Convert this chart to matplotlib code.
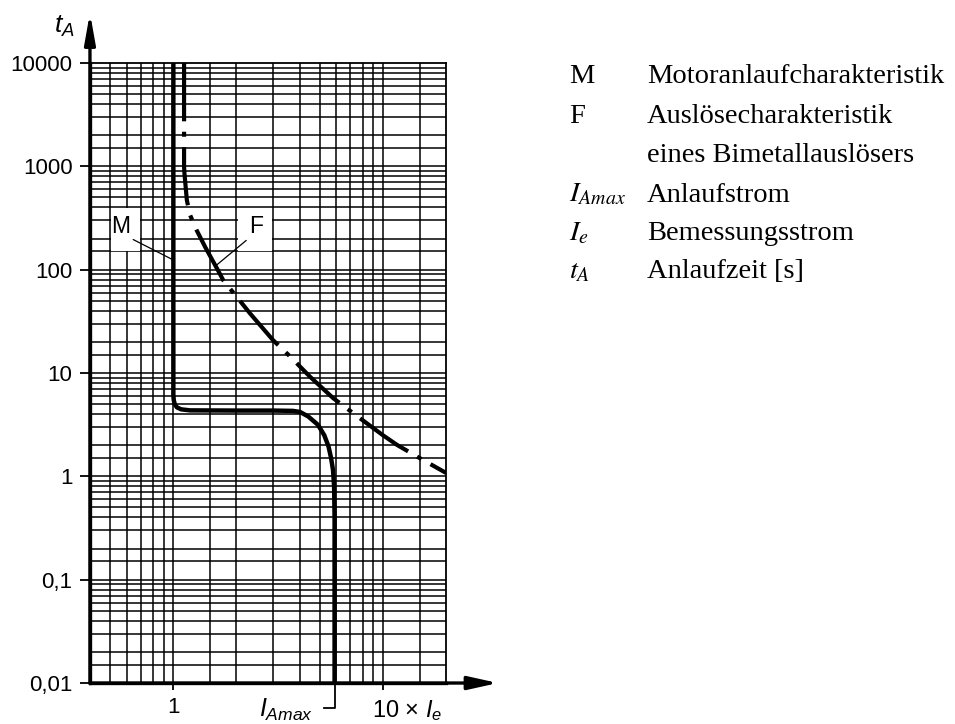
import matplotlib.pyplot as plt
from matplotlib.patches import Rectangle
from matplotlib.ticker import FixedLocator, NullLocator
from matplotlib.transforms import blended_transform_factory

plt.rcParams['font.family'] = ['Liberation Sans', 'DejaVu Sans']
plt.rcParams['mathtext.fontset'] = 'custom'
plt.rcParams['mathtext.rm'] = 'Liberation Sans'
plt.rcParams['mathtext.it'] = 'Liberation Sans:italic'

# M: motor start-up curve (current as multiple of I_e, time in s)
m_current = [1.0, 1.0, 1.004, 1.015, 1.04, 1.09, 1.2, 2.0, 3.0, 3.72, 4.02,
             4.4, 4.9, 5.25, 5.5, 5.66, 5.78, 5.85, 5.88, 5.88]
m_time = [10000, 6.2, 5.5, 5.0, 4.65, 4.45, 4.35, 4.33, 4.33, 4.3, 4.2,
          3.8, 3.15, 2.5, 1.95, 1.5, 1.15, 0.8, 0.4, 0.01]

# F: tripping curve of the bimetal release
f_current = [1.125, 1.125, 1.13, 1.16, 1.2, 1.29, 1.42, 1.64, 1.73, 2.0,
             2.32, 2.99, 3.6, 4.49, 5.78, 7.5, 10.0, 11.7, 15.0, 20.0]
f_time = [10000, 1000, 850, 470, 340, 242, 165, 97, 79, 55,
          37.8, 20.8, 14.5, 9.2, 5.73, 3.85, 2.5, 2.01, 1.5, 1.08]

i_amax = 5.88

y_ticks = [0.01, 0.1, 1, 10, 100, 1000, 10000]
y_labels = ['0,01', '0,1', '1', '10', '100', '1000', '10000']

legend_symbols = ['M', 'F', '', '$I_{Amax}$', '$I_e$', '$t_A$']
legend_texts = ['Motoranlaufcharakteristik', 'Auslösecharakteristik',
                'eines Bimetallauslösers', 'Anlaufstrom', 'Bemessungsstrom',
                'Anlaufzeit [s]']

# log paper: lines at these steps in every decade
grid_steps = [1, 1.5, 2, 3, 4, 5, 6, 7, 8, 9]

fig = plt.figure(figsize=(9.55, 7.24), dpi=100)
ax = fig.add_axes([0.0942, 0.0566, 0.3728, 0.8564])
ax.set_xscale('log')
ax.set_yscale('log')
ax.set_xlim(0.4, 20)
ax.set_ylim(0.01, 10000)

xs = [s * 10.0 ** e for e in range(-1, 2) for s in grid_steps]
xs = [x for x in xs if 0.4 < x < 20]
ys = [s * 10.0 ** e for e in range(-2, 4) for s in grid_steps]
ys = [y for y in ys if 0.01 < y < 10000]
ax.vlines(xs, 0.01, 10000, colors='black', lw=1.1, zorder=1)
ax.hlines(ys, 0.4, 20, colors='black', lw=1.1, zorder=1)

# white patches under the curve labels
for x0, x1 in [(0.5, 0.7), (2, 3)]:
    ax.add_patch(Rectangle((x0 * 1.012, 153), x1 / 1.012 - x0 * 1.012, 392 - 153,
                           facecolor='white', edgecolor='none', zorder=1.5))

ax.plot(m_current, m_time, color='black', lw=3.2, solid_joinstyle='round',
        solid_capstyle='butt', zorder=3)
ax.plot(f_current, f_time, color='black', lw=3.0, dashes=(14, 2.5, 1.2, 2.5),
        dash_capstyle='butt', dash_joinstyle='round', zorder=3)

ax.annotate('M', xy=(1.0, 124), xytext=(0.562, 261), ha='center', va='center',
            fontsize=16.5, zorder=4,
            arrowprops=dict(arrowstyle='-', lw=0.9, color='black',
                            relpos=(1, 0), shrinkA=0, shrinkB=0))
ax.annotate('F', xy=(1.61, 111), xytext=(2.48, 261), ha='center', va='center',
            fontsize=16.5, zorder=4,
            arrowprops=dict(arrowstyle='-', lw=0.9, color='black',
                            relpos=(0, 0), shrinkA=0, shrinkB=0))

# axes
for side in ['top', 'right']:
    ax.spines[side].set_linewidth(1.3)
for side in ['left', 'bottom']:
    ax.spines[side].set_linewidth(2.4)

ax.yaxis.set_major_locator(FixedLocator(y_ticks))
ax.set_yticklabels(y_labels)
ax.yaxis.set_minor_locator(NullLocator())
ax.xaxis.set_major_locator(FixedLocator([1, 10]))
ax.set_xticklabels(['1', ''])
ax.xaxis.set_minor_locator(NullLocator())
ax.tick_params(axis='y', length=7.2, width=1.3, pad=5.3, labelsize=16)
ax.tick_params(axis='x', length=5, width=1.3, pad=5, labelsize=16)

ax.annotate('', xy=(0, 1.081), xytext=(0, 0), xycoords='axes fraction',
            arrowprops=dict(arrowstyle='-|>,head_length=1.8,head_width=0.32',
                            lw=2.4, color='black', shrinkA=0, shrinkB=0,
                            mutation_scale=10))
ax.annotate('', xy=(1.146, 0), xytext=(0, 0), xycoords='axes fraction',
            arrowprops=dict(arrowstyle='-|>,head_length=1.8,head_width=0.4',
                            lw=2.4, color='black', shrinkA=0, shrinkB=0,
                            mutation_scale=10))

ax.text(-0.1, 1.048, '$t_A$', transform=ax.transAxes, fontsize=19,
        ha='left', va='baseline')

trans = blended_transform_factory(ax.transData, ax.transAxes)
ax.plot([i_amax / 1.128, i_amax, i_amax], [-0.0403, -0.0403, 0], transform=trans,
        clip_on=False, color='black', lw=1.3)
ax.text(i_amax / 1.26, -0.0548, '$I_{Amax}$', transform=trans, fontsize=18,
        ha='right', va='baseline')
ax.text(10 / 1.128, -0.0548, '10 × $I_e$', transform=trans, fontsize=17,
        ha='left', va='baseline')

# legend block on the right
rows_y = [0.885, 0.8305, 0.7767, 0.7214, 0.6685, 0.6156]
for sym, txt, yy in zip(legend_symbols, legend_texts, rows_y):
    if sym:
        fig.text(0.596, yy, sym, family='Liberation Serif', fontsize=20.5,
                 math_fontfamily='stix', va='baseline')
    fig.text(0.6772, yy, txt, family='Liberation Serif', fontsize=20.5,
             va='baseline')

fig.savefig('out.png', dpi=100)
